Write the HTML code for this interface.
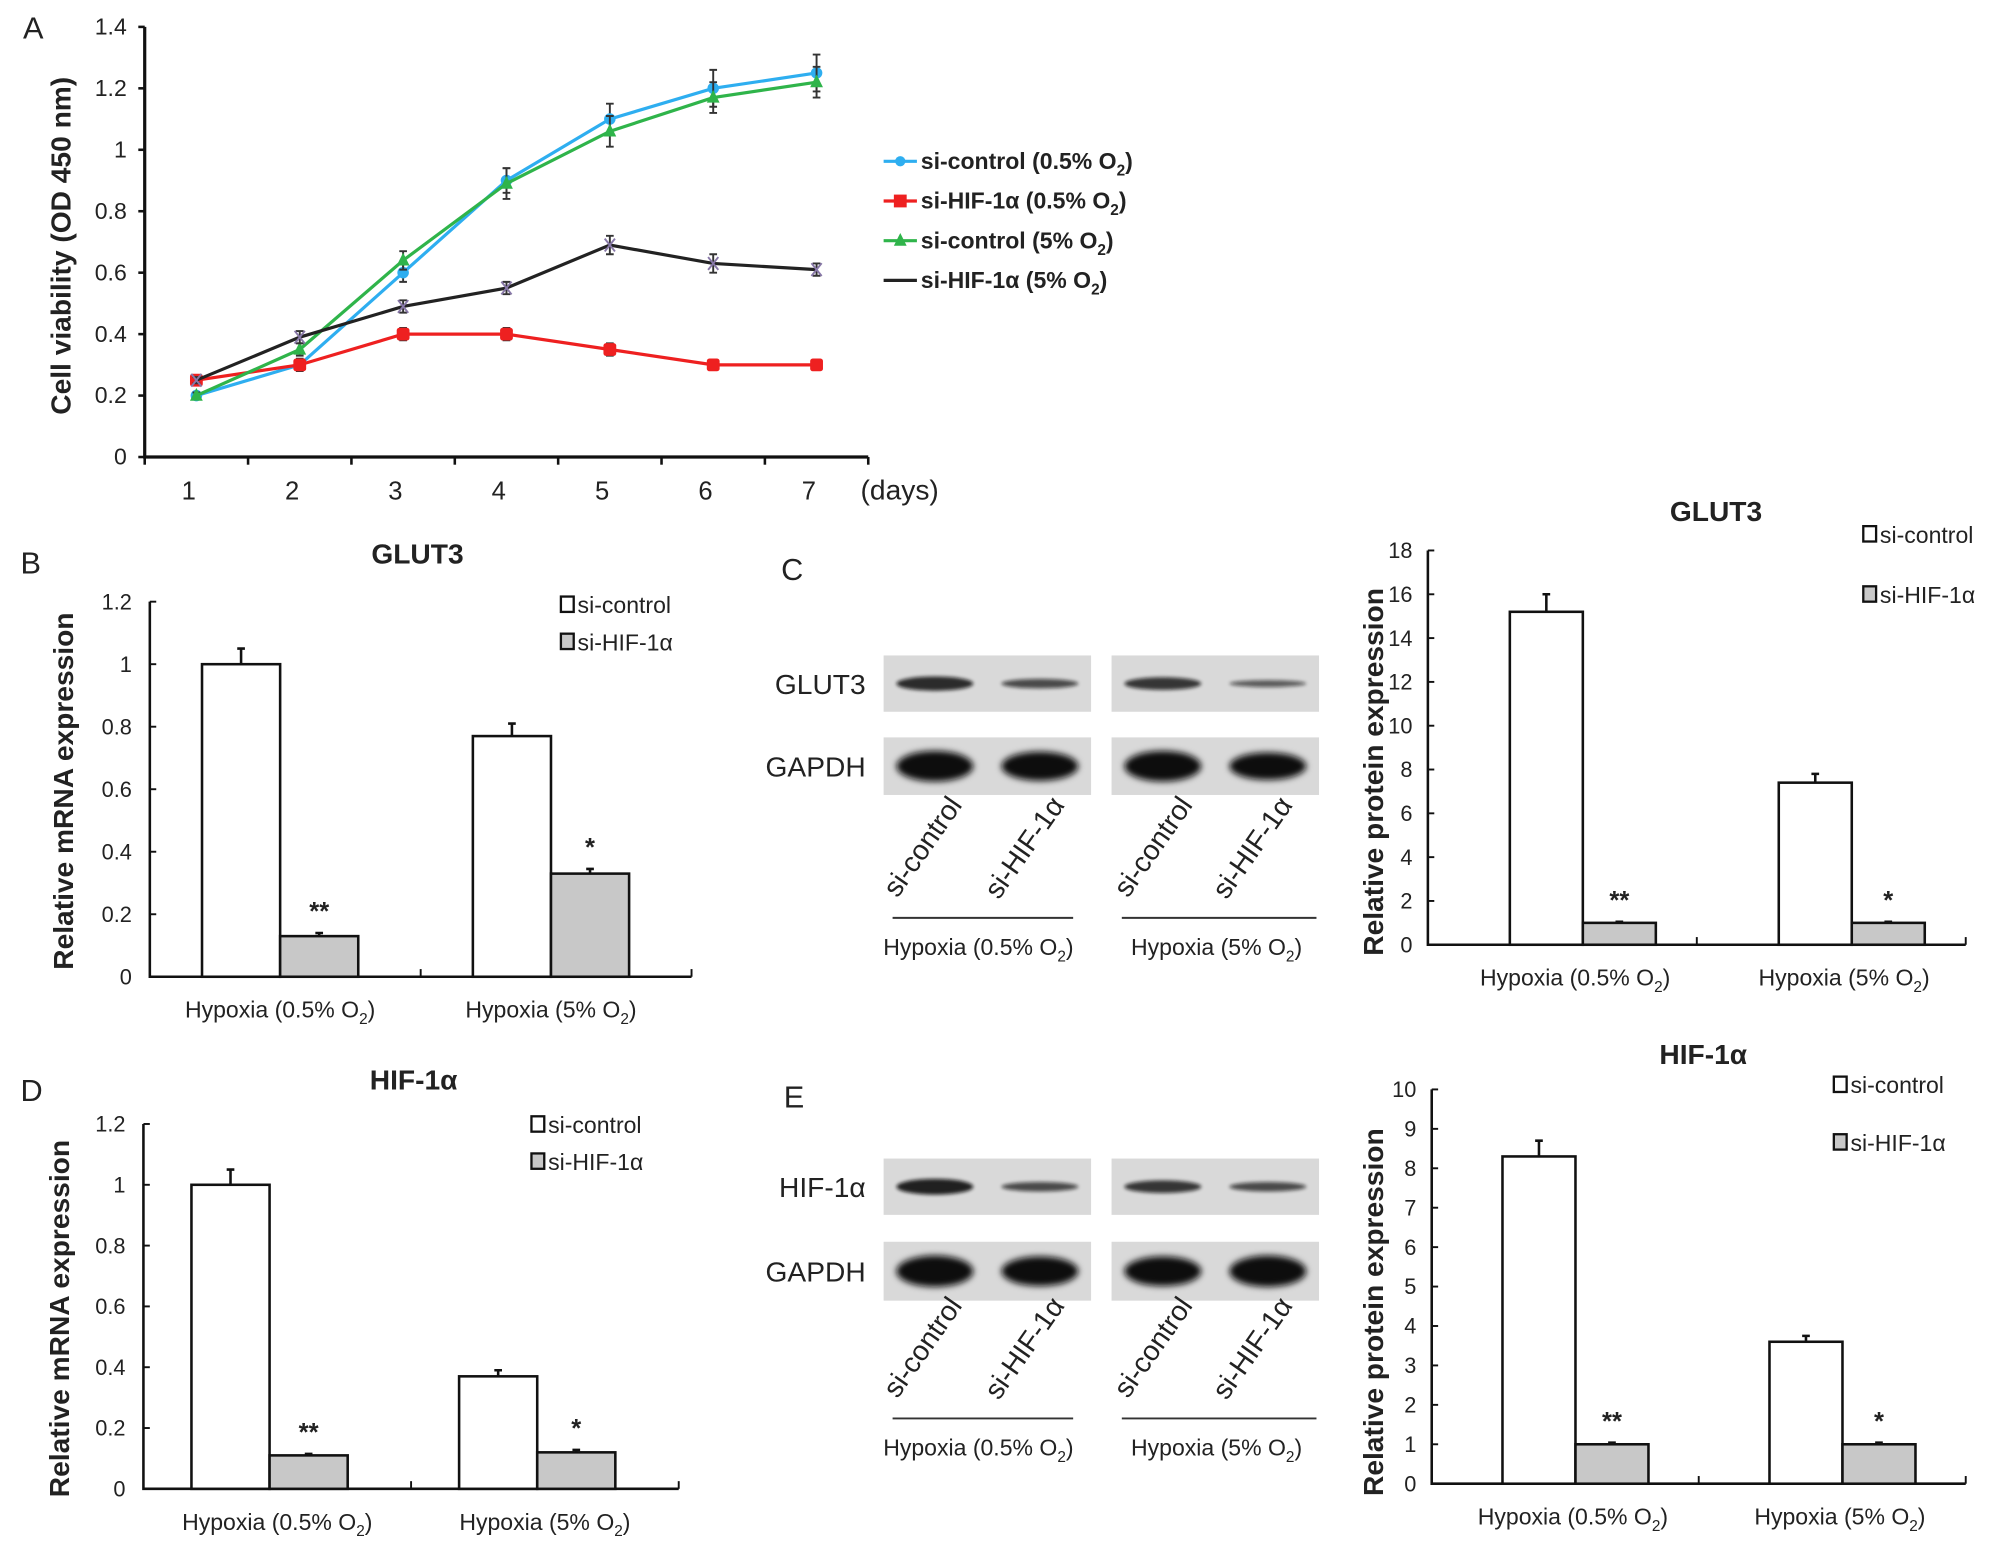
<!DOCTYPE html>
<html><head><meta charset="utf-8">
<style>
html,body{margin:0;padding:0;background:#fff;}
svg{display:block;}
text{font-family:"Liberation Sans",Arial,sans-serif;fill:#222;}
.sn{font-family:"Liberation Sans Narrow","Liberation Sans",sans-serif;}
</style></head>
<body>
<svg id="fig" width="2008" height="1549" viewBox="0 0 1568 1210" preserveAspectRatio="none" xmlns="http://www.w3.org/2000/svg">
<defs>
<filter id="blur2" x="-20%" y="-50%" width="140%" height="200%"><feGaussianBlur stdDeviation="2.5"/></filter>
<filter id="blur1" x="-20%" y="-50%" width="140%" height="200%"><feGaussianBlur stdDeviation="1.5"/></filter>
</defs>
<g id="root"></g>
</svg>
<script>
// ---------- Panel A data ----------
const days = [1,2,3,4,5,6,7];
const ctrl05 = [0.20,0.30,0.60,0.90,1.10,1.20,1.25];
const ctrl05Err = [0.01,0.02,0.03,0.04,0.05,0.06,0.06];
const hif05 = [0.25,0.30,0.40,0.40,0.35,0.30,0.30];
const hif05Err = [0.01,0.01,0.02,0.02,0.02,0.01,0.01];
const ctrl5 = [0.20,0.35,0.64,0.89,1.06,1.17,1.22];
const ctrl5Err = [0.01,0.02,0.03,0.05,0.05,0.05,0.05];
const hif5 = [0.25,0.39,0.49,0.55,0.69,0.63,0.61];
const hif5Err = [0.01,0.02,0.02,0.02,0.03,0.03,0.02];
const aTicks = [0,0.2,0.4,0.6,0.8,1,1.2,1.4];

// ---------- Bar chart data ----------
const groups = ["Hypoxia (0.5% O", "Hypoxia (5% O"];
const bCtrl = [1.0, 0.77]; const bCtrlErr = [0.05, 0.04];
const bHif = [0.13, 0.33]; const bHifErr = [0.01, 0.015];
const bTicks = [0,0.2,0.4,0.6,0.8,1,1.2];
const cCtrl = [15.2, 7.4]; const cCtrlErr = [0.8, 0.4];
const cHif = [1.0, 1.0]; const cHifErr = [0.05, 0.05];
const cTicks = [0,2,4,6,8,10,12,14,16,18];
const dCtrl = [1.0, 0.37]; const dCtrlErr = [0.05, 0.02];
const dHif = [0.11, 0.12]; const dHifErr = [0.005, 0.008];
const dTicks = [0,0.2,0.4,0.6,0.8,1,1.2];
const eCtrl = [8.3, 3.6]; const eCtrlErr = [0.4, 0.15];
const eHif = [1.0, 1.0]; const eHifErr = [0.04, 0.04];
const eTicks = [0,1,2,3,4,5,6,7,8,9,10];
const stars = ["**","*"];

const NS="http://www.w3.org/2000/svg";
const root=document.getElementById('root');
function mk(tag,attrs,parent,txt){const e=document.createElementNS(NS,tag);for(const k in attrs)e.setAttribute(k,attrs[k]);if(txt!==undefined)e.textContent=txt;(parent||root).appendChild(e);return e;}

// panel letters
[["A",18,30],["B",16,448],["C",610,453],["D",16,860],["E",612,865]].forEach(l=>{
  const t=mk('text',{x:l[1],y:l[2],'font-size':24},root,l[0]);
  
  
});

// ---------- Panel A line chart ----------
(function(){
  const g=mk('g',{});
  
  
  const x0=113,x1=678,y0=357,yT=21,max=1.4;
  const band=(x1-x0)/days.length;
  const X=i=>x0+band*(i+0.5);
  const Y=v=>y0-(v/max)*(y0-yT);
  const ax=mk('path',{d:`M${x0},${yT} V${y0} H${x1}`,stroke:'#111','stroke-width':2.5,fill:'none'},g);
  
  
  aTicks.forEach(t=>{
    mk('line',{x1:x0-5,x2:x0,y1:Y(t),y2:Y(t),stroke:'#111','stroke-width':2},g);
    const tl=mk('text',{x:x0-14,y:Y(t)+6,'font-size':18,'text-anchor':'end'},g,String(t));
    
    
  });
  for(let i=0;i<=days.length;i++) mk('line',{x1:x0+band*i,x2:x0+band*i,y1:y0,y2:y0+6,stroke:'#111','stroke-width':2},g);
  days.forEach((d,i)=>{
    const tl=mk('text',{x:X(i)-6,y:y0+33,'font-size':20,'text-anchor':'middle'},g,String(d));
    
    
  });
  const dl=mk('text',{x:672,y:390,'font-size':22},g,'(days)');
  
  
  const yt=mk('text',{x:0,y:0,'font-size':22,'font-weight':'bold','text-anchor':'middle',transform:`translate(55,192) rotate(-90)`},g,'Cell viability (OD 450 nm)');
  
  
  const series=[
    {name:'ctrl05',v:ctrl05,e:ctrl05Err,c:'#2eaef0',m:'diamond'},
    {name:'hif05',v:hif05,e:hif05Err,c:'#ee2020',m:'square'},
    {name:'ctrl5',v:ctrl5,e:ctrl5Err,c:'#2fb44a',m:'tri'},
    {name:'hif5',v:hif5,e:hif5Err,c:'#222',m:'x'}];
  series.forEach(s=>{
    const sg=mk('g',{},g);
    
    
    s.v.forEach((v,i)=>{
      const eb=mk('path',{d:`M${X(i)},${Y(v+s.e[i])}V${Y(v-s.e[i])}M${X(i)-3},${Y(v+s.e[i])}h6M${X(i)-3},${Y(v-s.e[i])}h6`,stroke:'#333','stroke-width':1.5},sg);
      
      
    });
    const ln=mk('path',{d:s.v.map((v,i)=>(i?'L':'M')+X(i)+','+Y(v)).join(''),stroke:s.c,'stroke-width':2.5,fill:'none'},sg);
    
    
    s.v.forEach((v,i)=>{
      const cx=X(i),cy=Y(v);let p;
      if(s.m==='diamond')p=mk('circle',{cx,cy,r:4.5,fill:s.c},sg);
      else if(s.m==='square')p=mk('rect',{x:cx-5,y:cy-5,width:10,height:10,rx:2,fill:s.c},sg);
      else if(s.m==='tri')p=mk('path',{d:`M${cx},${cy-6}L${cx+5},${cy+4}L${cx-5},${cy+4}Z`,fill:s.c},sg);
      else p=mk('path',{d:`M${cx-4},${cy-5}L${cx+4},${cy+5}M${cx+4},${cy-5}L${cx-4},${cy+5}`,stroke:'#8878a8','stroke-width':1.5},sg);
      
      
    });
  });
  const labels=[['si-control  (0.5% O','2',')'],['si-HIF-1α (0.5% O','2',')'],['si-control  (5% O','2',')'],['si-HIF-1α (5% O','2',')']];
  series.forEach((s,i)=>{
    const y=126+i*31;
    const lg=mk('g',{},g);
    
    
    mk('line',{x1:690,x2:716,y1:y,y2:y,stroke:s.c,'stroke-width':2.5},lg);
    if(s.m==='square')mk('rect',{x:698,y:y-5,width:10,height:10,fill:s.c},lg);
    else if(s.m==='diamond')mk('circle',{cx:703,cy:y,r:4,fill:s.c},lg);
    else if(s.m==='tri')mk('path',{d:`M703,${y-6}L708,${y+4}L698,${y+4}Z`,fill:s.c},lg);
    const t=mk('text',{x:719,y:y+6,'font-size':18,'font-weight':'bold','xml:space':'preserve'},lg);
    mk('tspan',{},t,labels[i][0]);mk('tspan',{'font-size':12,dy:5},t,labels[i][1]);mk('tspan',{dy:-5},t,labels[i][2]);
  });
})();

// ---------- Bar chart builder ----------
function barChart(cfg){
  const g=mk('g',{});
  
  
  const {x0,x1,y0,yT,max,ticks,bw}=cfg;
  const Y=v=>y0-(v/max)*(y0-yT);
  const band=(x1-x0)/groups.length;
  const ax=mk('path',{d:`M${x0},${yT} V${y0} H${x1}`,stroke:'#111','stroke-width':2,fill:'none'},g);
  
  
  ticks.forEach(t=>{
    mk('line',{x1:x0,x2:x0+5,y1:Y(t),y2:Y(t),stroke:'#111','stroke-width':1.5},g);
    const tl=mk('text',{x:x0-cfg.tg,y:Y(t)+6,'font-size':cfg.tf,'text-anchor':'end',fill:'#333'},g,String(t));
    
    
  });
  for(let i=1;i<=groups.length;i++) mk('line',{x1:x0+band*i,x2:x0+band*i,y1:y0,y2:y0-6,stroke:'#111','stroke-width':1.5},g);
  groups.forEach((gname,i)=>{
    const c=x0+band*(i+0.5)+cfg.off;
    const bars=[[cfg.ctrl[i],cfg.ctrlE[i],'#fff',c-bw],[cfg.hif[i],cfg.hifE[i],'#c8c8c8',c]];
    bars.forEach((b,j)=>{
      const r=mk('rect',{x:b[3],y:Y(b[0]),width:bw,height:y0-Y(b[0]),fill:b[2],stroke:'#111','stroke-width':2},g);
      
      
      const cx=b[3]+bw/2;
      const eb=mk('path',{d:`M${cx},${Y(b[0])}V${Y(b[0]+b[1])}M${cx-3},${Y(b[0]+b[1])}h6`,stroke:'#111','stroke-width':2},g);
      
      
    });
    const st=mk('text',{x:c+bw/2,y:Y(cfg.hif[i]+cfg.hifE[i])-10,'font-size':20,'font-weight':'bold','text-anchor':'middle'},g,stars[i]);
    
    
    const xl=mk('text',{x:c+cfg.labOff,y:y0+32,'font-size':18,'text-anchor':'middle',fill:'#333'},g);
    
    
    mk('tspan',{},xl,gname);mk('tspan',{'font-size':12,dy:5},xl,'2');mk('tspan',{dy:-5},xl,')');
  });
  const tt=mk('text',{x:cfg.tx,y:cfg.ty,'font-size':22,'font-weight':'bold','text-anchor':'middle'},g,cfg.title);
  
  
  const yl=mk('text',{x:0,y:0,'font-size':22,'font-weight':'bold','text-anchor':'middle',transform:`translate(${cfg.ylx},${cfg.yly}) rotate(-90)`},g,cfg.ytitle);
  
  
  [['si-control','#fff'],['si-HIF-1α','#c8c8c8']].forEach((l,i)=>{
    const y=cfg.ly+i*cfg.lgap;
    const lg=mk('g',{},g);
    
    
    mk('rect',{x:cfg.lx,y:y-7,width:10,height:12,fill:l[1],stroke:'#111','stroke-width':1.8},lg);
    mk('text',{x:cfg.lx+13,y:y+6,'font-size':18,fill:'#333'},lg,l[0]);
  });
}
barChart({name:'panel-b-glut3-mrna',x0:117,x1:540,y0:763,yT:470,max:1.2,ticks:bTicks,tf:17,tg:14,bw:61,off:-4,labOff:0,ctrl:bCtrl,ctrlE:bCtrlErr,hif:bHif,hifE:bHifErr,title:'GLUT3',tx:326,ty:440,ytitle:'Relative mRNA expression',ylx:57,yly:618,lx:438,ly:473,lgap:29});
barChart({name:'panel-c-glut3-protein',x0:1115,x1:1535,y0:738,yT:430,max:18,ticks:cTicks,tf:17,tg:12,bw:57,off:16,labOff:-6,ctrl:cCtrl,ctrlE:cCtrlErr,hif:cHif,hifE:cHifErr,title:'GLUT3',tx:1340,ty:407,ytitle:'Relative protein expression',ylx:1080,yly:603,lx:1455,ly:418,lgap:47});
barChart({name:'panel-d-hif-mrna',x0:112,x1:530,y0:1163,yT:878,max:1.2,ticks:dTicks,tf:17,tg:14,bw:61,off:-6,labOff:6,ctrl:dCtrl,ctrlE:dCtrlErr,hif:dHif,hifE:dHifErr,title:'HIF-1α',tx:323,ty:851,ytitle:'Relative mRNA expression',ylx:54,yly:1030,lx:415,ly:879,lgap:29});
barChart({name:'panel-e-hif-protein',x0:1118,x1:1535,y0:1159,yT:851,max:10,ticks:eTicks,tf:17,tg:12,bw:57,off:8,labOff:-2,ctrl:eCtrl,ctrlE:eCtrlErr,hif:eHif,hifE:eHifErr,title:'HIF-1α',tx:1330,ty:831,ytitle:'Relative protein expression',ylx:1080,yly:1025,lx:1432,ly:848,lgap:45});

// ---------- Western blots ----------
function blot(name,rows,lineY){
  const g=mk('g',{});
  
  
  rows.forEach(r=>{
    const rl=mk('text',{x:676,y:r.y+r.h/2+8,'font-size':22,'text-anchor':'end',class:'sn'},g,r.label);
    
    
    [690,868].forEach((bx,pi)=>{
      const pr=mk('rect',{x:bx,y:r.y,width:162,height:r.h,fill:'#d9d9d9'},g);
      
      
      r.bands[pi].forEach((b,bi)=>{
        const e=mk('ellipse',{cx:bx+40+bi*82,cy:r.y+r.h/2,rx:30,ry:b*r.h*0.28,fill:'#111',filter:b>0.6?'url(#blur2)':'url(#blur1)',opacity:Math.min(1,0.4+b)},g);
        
        
      });
    });
  });
  [['si-control',752],['si-HIF-1α',832],['si-control',932],['si-HIF-1α',1010]].forEach(l=>{
    const t=mk('text',{x:0,y:0,'font-size':22,'text-anchor':'end',class:'sn',transform:`translate(${l[1]},${lineY-88}) rotate(-55)`},g,l[0]);
    
    
  });
  [[697,838,764,'Hypoxia (0.5% O'],[876,1028,950,'Hypoxia (5% O']].forEach(s=>{
    mk('line',{x1:s[0],x2:s[1],y1:lineY,y2:lineY,stroke:'#333','stroke-width':1.5},g);
    const t=mk('text',{x:s[2],y:lineY+29,'font-size':18,'text-anchor':'middle',fill:'#333'},g);
    
    
    mk('tspan',{},t,s[3]);mk('tspan',{'font-size':12,dy:5},t,'2');mk('tspan',{dy:-5},t,')');
  });
}
blot('panel-c-western-blot',[{label:'GLUT3',y:512,h:44,bands:[[0.45,0.3],[0.4,0.22]]},{label:'GAPDH',y:576,h:45,bands:[[0.95,0.9],[0.95,0.85]]}],717);
blot('panel-e-western-blot',[{label:'HIF-1α',y:905,h:44,bands:[[0.5,0.3],[0.4,0.3]]},{label:'GAPDH',y:970,h:46,bands:[[0.95,0.9],[0.9,0.95]]}],1108);
</script>
</body></html>
